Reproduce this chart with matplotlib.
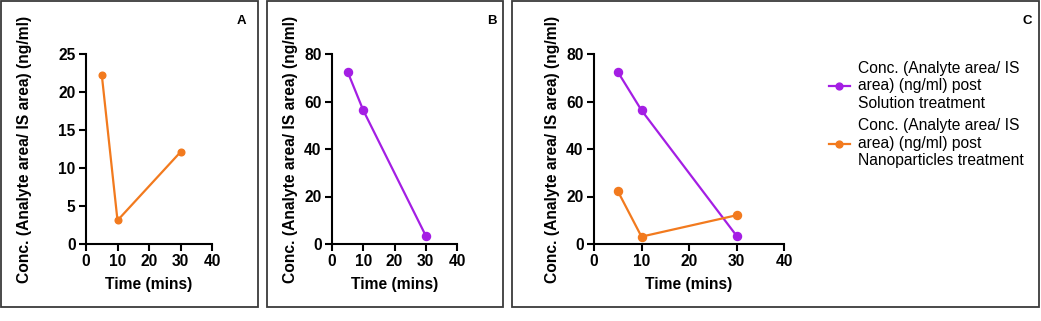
import matplotlib
matplotlib.use("Agg")
import matplotlib.pyplot as plt
from matplotlib.patches import Rectangle

plt.rcParams["font.family"] = ["Liberation Sans", "DejaVu Sans"]

# sampling times and concentrations
time_mins = [5, 10, 30]
conc_solution = [72.5, 56.3, 3.5]
conc_nanoparticles = [22.3, 3.1, 12.1]

x_ticks = [0, 10, 20, 30, 40]
y_ticks_a = [0, 5, 10, 15, 20, 25]
y_ticks_bc = [0, 20, 40, 60, 80]

label_solution = "Conc. (Analyte area/ IS\narea) (ng/ml) post\nSolution treatment"
label_nano = "Conc. (Analyte area/ IS\narea) (ng/ml) post\nNanoparticles treatment"
y_label = "Conc. (Analyte area/ IS area) (ng/ml)"
x_label = "Time (mins)"

PURPLE = "#a41ee4"
ORANGE = "#f27a1e"
W, H = 1041, 321
FS = 11.25

fig = plt.figure(figsize=(W / 100, H / 100), dpi=100)


def px_rect(x0, y0, x1, y1):
    """Pixel box (top-left origin) to figure fraction [l, b, w, h]."""
    return [x0 / W, 1 - y1 / H, (x1 - x0) / W, (y1 - y0) / H]


# panel frames
for x0, x1 in [(1, 258), (267, 503), (512, 1039)]:
    l, b, w, h = px_rect(x0, 1, x1, 307)
    fig.add_artist(Rectangle((l, b), w, h, transform=fig.transFigure,
                             fill=False, edgecolor="#3a3a3a", linewidth=1.3))


def style_axes(ax, yticks, ylab_x):
    ax.set_xlim(0, 40)
    ax.set_ylim(0, yticks[-1])
    ax.set_xticks(x_ticks)
    ax.set_yticks(yticks)
    for s in ("top", "right"):
        ax.spines[s].set_visible(False)
    for s in ("left", "bottom"):
        ax.spines[s].set_linewidth(1.5)
    ax.tick_params(width=1.5, length=5, labelsize=FS, pad=2.5)
    for t in ax.get_xticklabels() + ax.get_yticklabels():
        t.set_fontweight("bold")
    ax.set_xlabel(x_label, fontsize=FS, fontweight="bold", va="center")
    ax.set_ylabel(y_label, fontsize=FS, fontweight="bold", va="center")
    # label centres given in figure pixels, converted to axes fraction
    bbox = ax.get_position()
    x0, w = bbox.x0 * W, bbox.width * W
    ax.yaxis.set_label_coords((ylab_x - x0) / w, 0.5)
    ax.xaxis.set_label_coords(0.5, (244 - 284) / 190)
    ax.patch.set_alpha(0)


def draw(ax, y, color, ms):
    return ax.plot(time_mins, y, color=color, lw=1.6, marker="o",
                   markersize=ms, clip_on=False)[0]


ax_a = fig.add_axes(px_rect(86, 54, 212, 244))
draw(ax_a, conc_nanoparticles, ORANGE, 4.8)
style_axes(ax_a, y_ticks_a, 25)

ax_b = fig.add_axes(px_rect(332, 54, 457, 244))
draw(ax_b, conc_solution, PURPLE, 5.8)
style_axes(ax_b, y_ticks_bc, 290)

ax_c = fig.add_axes(px_rect(594, 54, 784, 244))
h1 = draw(ax_c, conc_solution, PURPLE, 5.8)
h2 = draw(ax_c, conc_nanoparticles, ORANGE, 5.8)
style_axes(ax_c, y_ticks_bc, 552)
h1.set_label(label_solution)
h2.set_label(label_nano)
leg = fig.legend(handles=[h1, h2], loc="upper left",
                 bbox_to_anchor=(821 / W, 1 - 53 / H), frameon=False,
                 fontsize=FS, handlelength=1.35, handletextpad=0.55,
                 labelspacing=0.45, borderpad=0, markerscale=0.85)
for t in leg.get_texts():
    t.set_linespacing(1.22)

for letter, xp in [("A", 241), ("B", 492), ("C", 1027)]:
    fig.text(xp / W, 1 - 21 / H, letter, ha="center", va="center",
             fontsize=9.5, fontweight="bold")

fig.savefig("out.png", dpi=100)
